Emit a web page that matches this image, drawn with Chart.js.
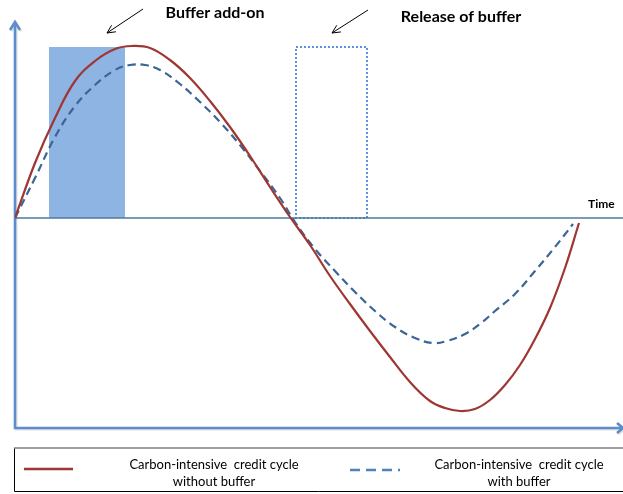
<!DOCTYPE html>
<html><head><meta charset="utf-8">
<script src="https://cdn.jsdelivr.net/npm/chart.js@4"></script>
<style>html,body{margin:0;padding:0;background:#fff;overflow:hidden}</style>
</head><body>
<canvas id="c" width="623" height="494"></canvas>
<script>
// ---- data (arbitrary units: time along x, credit-cycle level along y) ----
const timeNoBuffer  = [0, 20, 40, 60, 80, 100, 117, 135, 155, 175, 195, 215, 235, 255, 275, 295, 315, 335, 355, 375, 395, 415, 430, 445, 460, 475, 490, 505, 520, 535, 550, 564];
const cycleNoBuffer = [0, 55, 100, 137, 157, 169, 172, 170, 158, 140, 117, 91, 62, 31, 1, -27, -58, -86, -113, -139, -164, -183, -190, -193, -191, -182, -167, -147, -121, -90, -50, -5];
const timeWithBuffer  = [0, 20, 40, 60, 80, 100, 115, 130, 145, 165, 185, 205, 225, 245, 265, 280, 300, 320, 340, 360, 380, 400, 418, 432, 450, 465, 480, 500, 520, 540, 558];
const cycleWithBuffer = [0, 40, 81, 112, 133, 148, 153, 153, 148, 134, 116, 96, 73, 47, 20, -4, -31, -53, -74, -93, -109, -120, -125, -123, -116, -106, -93, -76, -53, -29, -6];
const seriesLabels = [["Carbon-intensive  credit cycle", "without buffer"], ["Carbon-intensive  credit cycle", "with buffer"]];
const bufferAddOnSpan = [34, 110];
const bufferReleaseSpan = [280, 353];
const bufferLevel = 171;
const annotationLabels = ["Buffer add-on", "Release of buffer"];
const axisTitle = "Time";
const timeRange = [0, 608];
const levelRange = [-210, 196];

const toPts = (xs, ys) => xs.map((v, i) => ({x: v, y: ys[i]}));

function arrow(ctx, x1, y1, x2, y2, head) {
  ctx.beginPath(); ctx.moveTo(x1, y1); ctx.lineTo(x2, y2); ctx.stroke();
  const a = Math.atan2(y2 - y1, x2 - x1);
  ctx.beginPath();
  ctx.moveTo(x2 - head * Math.cos(a - 0.45), y2 - head * Math.sin(a - 0.45));
  ctx.lineTo(x2, y2);
  ctx.lineTo(x2 - head * Math.cos(a + 0.45), y2 - head * Math.sin(a + 0.45));
  ctx.stroke();
}

const deco = {
  id: 'deco',
  beforeDatasetsDraw(chart) {
    const {ctx, scales: {x, y}} = chart;
    ctx.save();
    const y0 = y.getPixelForValue(0), yt = y.getPixelForValue(bufferLevel);
    const a0 = x.getPixelForValue(bufferAddOnSpan[0]), a1 = x.getPixelForValue(bufferAddOnSpan[1]);
    ctx.fillStyle = '#8EB4E3';
    ctx.fillRect(a0, yt, a1 - a0, y0 - yt);
    const r0 = x.getPixelForValue(bufferReleaseSpan[0]), r1 = x.getPixelForValue(bufferReleaseSpan[1]);
    ctx.strokeStyle = '#5B93DC'; ctx.lineWidth = 2; ctx.setLineDash([2, 2]);
    ctx.strokeRect(r0 + 1, yt, r1 - r0 - 2, y0 - yt);
    ctx.setLineDash([]);
    ctx.strokeStyle = '#4A7D9E'; ctx.lineWidth = 1.3;
    ctx.beginPath(); ctx.moveTo(x.getPixelForValue(timeRange[0]), y0); ctx.lineTo(chart.width, y0); ctx.stroke();
    const xl = x.getPixelForValue(timeRange[0]), yb = y.getPixelForValue(levelRange[0]);
    const ytop = y.getPixelForValue(levelRange[1]);
    [['rgba(0,0,0,0.12)', 1.2], ['#5E8DCB', 0]].forEach(([col, off]) => {
      ctx.strokeStyle = col; ctx.lineWidth = 2.6; ctx.lineCap = 'butt';
      ctx.beginPath();
      ctx.moveTo(xl + off, ytop + 3 + off); ctx.lineTo(xl + off, yb + off); ctx.lineTo(chart.width - 2 + off, yb + off);
      ctx.stroke();
      ctx.beginPath();
      ctx.moveTo(xl - 5 + off, ytop + 8 + off); ctx.lineTo(xl + off, ytop + off); ctx.lineTo(xl + 5 + off, ytop + 8 + off);
      ctx.stroke();
      ctx.beginPath();
      ctx.moveTo(chart.width - 6 + off, yb - 5 + off); ctx.lineTo(chart.width + off, yb + off); ctx.lineTo(chart.width - 6 + off, yb + 5 + off);
      ctx.stroke();
    });
    ctx.restore();
  },
  afterDraw(chart) {
    const {ctx} = chart;
    ctx.save();
    ctx.fillStyle = '#000';
    ctx.textAlign = 'center'; ctx.textBaseline = 'alphabetic';
    ctx.font = 'bold 16px Lato';
    ctx.fillText(annotationLabels[0], 215, 18);
    ctx.fillText(annotationLabels[1], 461, 22);
    ctx.strokeStyle = '#000'; ctx.lineWidth = 1;
    arrow(ctx, 143, 9, 107, 33, 9);
    arrow(ctx, 368, 10, 332, 33, 9);
    ctx.font = 'bold 12px Lato';
    ctx.textAlign = 'left';
    ctx.fillText(axisTitle, 588, 208);
    ctx.strokeStyle = '#000'; ctx.lineWidth = 1;
    ctx.beginPath(); ctx.moveTo(14.5, 448); ctx.lineTo(14.5, 491.5); ctx.lineTo(623, 491.5); ctx.stroke();
    ctx.strokeStyle = '#808080'; ctx.lineWidth = 1.5;
    ctx.beginPath(); ctx.moveTo(14, 448); ctx.lineTo(623, 448); ctx.stroke();
    const ds = chart.data.datasets;
    const samples = [[24, 73, 469], [350, 400, 470]];
    const centers = [214, 519];
    ds.forEach((d, i) => {
      ctx.strokeStyle = i === 0 ? d.borderColor : '#4F81BD';
      ctx.lineWidth = 2.5;
      ctx.setLineDash(i === 0 ? [] : [10, 6]);
      ctx.beginPath(); ctx.moveTo(samples[i][0], samples[i][2]); ctx.lineTo(samples[i][1], samples[i][2]); ctx.stroke();
      ctx.setLineDash([]);
      ctx.font = '13px Lato'; ctx.textAlign = 'center'; ctx.fillStyle = '#000';
      ctx.fillText(d.label[0], centers[i], 469);
      ctx.fillText(d.label[1], centers[i], 486);
    });
    ctx.restore();
  }
};

new Chart(document.getElementById('c'), {
  type: 'line',
  data: {
    datasets: [
      {label: seriesLabels[0], data: toPts(timeNoBuffer, cycleNoBuffer), borderColor: '#9E3633', borderWidth: 2.2,
       pointRadius: 0, tension: 0.4, fill: false},
      {label: seriesLabels[1], data: toPts(timeWithBuffer, cycleWithBuffer), borderColor: '#3A6596', borderWidth: 2.2,
       borderDash: [8, 5], pointRadius: 0, tension: 0.4, fill: false}
    ]
  },
  options: {
    responsive: false, animation: false, devicePixelRatio: 1,
    layout: {padding: {left: 15, top: 22, right: 0, bottom: 66}},
    scales: {
      x: {type: 'linear', min: timeRange[0], max: timeRange[1], display: false},
      y: {type: 'linear', min: levelRange[0], max: levelRange[1], display: false}
    },
    plugins: {legend: {display: false}, tooltip: {enabled: false}}
  },
  plugins: [deco]
});
</script>
</body></html>
